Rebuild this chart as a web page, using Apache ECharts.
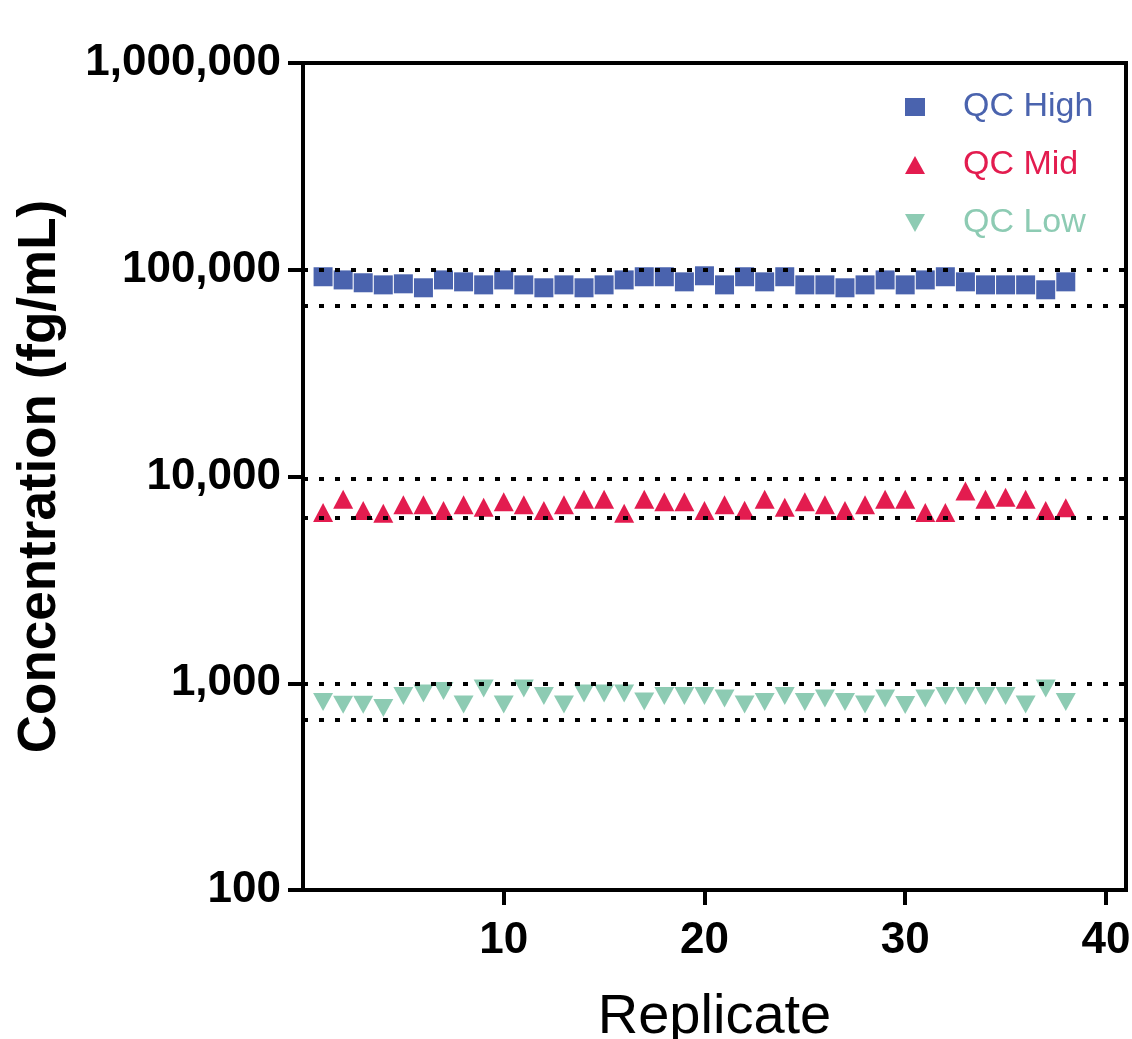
<!DOCTYPE html>
<html>
<head>
<meta charset="utf-8">
<script src="https://cdn.jsdelivr.net/npm/echarts@6/dist/echarts.min.js"></script>
<style>html,body{margin:0;padding:0;background:#fff;}#c{width:1132px;height:1039px;}</style>
</head>
<body>
<div id="c"></div>
<script>
const replicates = Array.from({length: 38}, (_, i) => i + 1);
const qcHigh = [92500, 89300, 86500, 84500, 85500, 81800, 89300, 87400, 84500, 89300,
  84500, 81800, 84500, 81800, 84500, 89300, 92500, 92500, 87400, 93500,
  84500, 92500, 87400, 92500, 84500, 84500, 81800, 84500, 89300, 84500,
  89300, 92500, 87400, 84500, 84500, 84500, 80000, 87400];
const qcMid = [6690, 7760, 6840, 6650, 7310, 7310, 6840, 7310, 7100, 7540,
  7310, 6840, 7310, 7760, 7760, 6650, 7760, 7540, 7540, 6840,
  7310, 6860, 7760, 7100, 7540, 7310, 6840, 7310, 7760, 7760,
  6690, 6690, 8500, 7760, 7930, 7760, 6840, 7060];
const qcLow = [811, 787, 787, 760, 867, 891, 917, 790, 944, 790,
  944, 867, 790, 891, 891, 891, 816, 867, 867, 867,
  843, 790, 811, 867, 811, 843, 811, 790, 843, 785,
  843, 867, 867, 867, 867, 790, 944, 811];
const highLimits = [100000, 66700];
const midLimits = [9750, 6350];
const lowLimits = [1000, 667];
const yTicks = [100, 1000, 10000, 100000, 1000000];
const xTicks = [10, 20, 30, 40];
const seriesNames = ['QC High', 'QC Mid', 'QC Low'];
const colors = ['#4A63AE', '#E31C4F', '#8DCBB3'];

const font = '"Liberation Sans", Arial, sans-serif';
const pairs = arr => replicates.map((r, i) => [r, arr[i]]);
const limitLine = vals => ({
  silent: true, symbol: 'none', label: {show: false},
  lineStyle: {color: '#000', type: [5, 11], width: 4},
  data: vals.map(v => ({yAxis: v}))
});
const downTri = 'path://M0,0 L20,0 L10,18 Z';

const chart = echarts.init(document.getElementById('c'), null, {renderer: 'canvas'});
chart.setOption({
  backgroundColor: '#fff',
  animation: false,
  grid: {left: 303, right: 6, top: 63, bottom: 149, outerBoundsMode: 'none', containLabel: false,
    show: true, borderColor: '#000', borderWidth: 4, backgroundColor: 'transparent'},
  legend: {
    orient: 'vertical', left: 900, top: 85, itemWidth: 20, itemHeight: 18, itemGap: 24,
    textStyle: {fontFamily: font, fontSize: 34, padding: [0, 0, 0, 33]},
    data: seriesNames.map((n, i) => ({name: n, textStyle: {color: colors[i]}}))
  },
  xAxis: {
    type: 'value', min: 0, max: 41,
    name: 'Replicate', nameLocation: 'middle', nameGap: 100,
    nameTextStyle: {fontFamily: font, fontSize: 56, color: '#000'},
    axisLine: {lineStyle: {color: '#000', width: 4}},
    axisTick: {show: true, length: 15, lineStyle: {color: '#000', width: 4}, customValues: xTicks},
    axisLabel: {fontFamily: font, fontSize: 44, fontWeight: 'bold', color: '#000', margin: 29, customValues: xTicks},
    splitLine: {show: false}
  },
  yAxis: {
    type: 'log', logBase: 10, min: 100, max: 1000000,
    name: 'Concentration (fg/mL)', nameLocation: 'middle', nameGap: 236,
    nameTextStyle: {fontFamily: font, fontSize: 53, fontWeight: 'bold', color: '#000'},
    axisLine: {lineStyle: {color: '#000', width: 4}},
    axisTick: {show: true, length: 15, lineStyle: {color: '#000', width: 4}, customValues: yTicks},
    axisLabel: {fontFamily: font, fontSize: 44, fontWeight: 'bold', color: '#000', margin: 22,
      customValues: yTicks, formatter: v => Number(v).toLocaleString('en-US')},
    splitLine: {show: false},
    minorTick: {show: false}
  },
  series: [
    {name: seriesNames[0], type: 'scatter', data: pairs(qcHigh), symbol: 'rect', symbolSize: 19,
      itemStyle: {color: colors[0], opacity: 1}, markLine: limitLine(highLimits), z: 3},
    {name: seriesNames[1], type: 'scatter', data: pairs(qcMid), symbol: 'triangle', symbolSize: [20, 19],
      itemStyle: {color: colors[1], opacity: 1}, markLine: limitLine(midLimits), z: 3},
    {name: seriesNames[2], type: 'scatter', data: pairs(qcLow), symbol: downTri, symbolSize: [20, 18],
      itemStyle: {color: colors[2], opacity: 1}, markLine: limitLine(lowLimits), z: 3}
  ]
});
</script>
</body>
</html>
